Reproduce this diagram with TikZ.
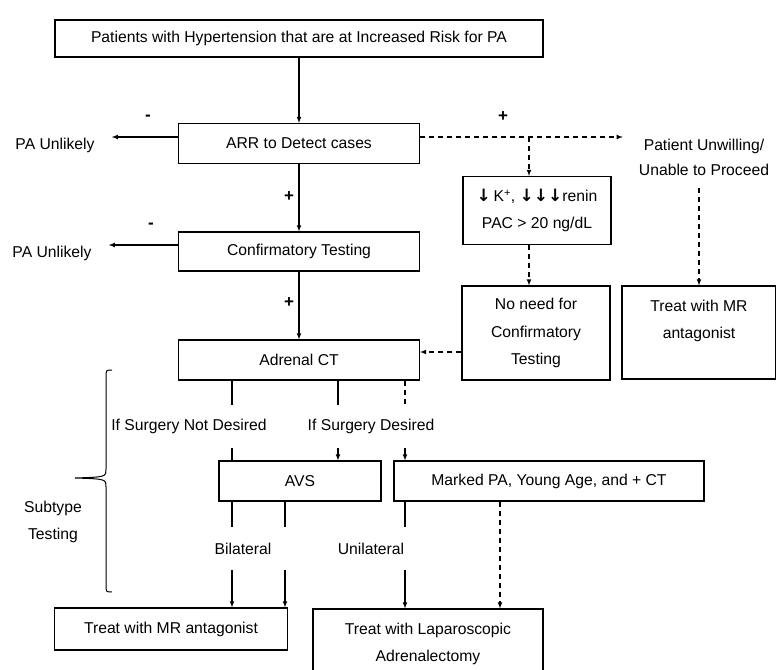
\documentclass[tikz,border=0pt]{standalone}
\usepackage{fontspec}
\setmainfont{Liberation Sans}
\newfontfamily\symfont{DejaVu Sans}
\usepackage{tikz}
\usetikzlibrary{calc,
	positioning,
	shapes,
	arrows}
\tikzstyle{box}=[draw, line width=1.1pt, inner sep=0, align=center]
\tikzstyle{lbl}=[inner sep=0, minimum height=43, align=center]
\tikzstyle{sgn}=[inner sep=0, font={\fontsize{17}{18}\selectfont\bfseries}]
\tikzstyle{ln}=[line width=1.1pt]
\tikzstyle{dsh}=[line width=1.1pt, dash pattern=on 5pt off 4pt]
\newcommand{\dn}{{\symfont\bfseries\fontsize{17}{17}\selectfont ↓}}

\begin{document}
\begin{tikzpicture}[x=1pt, y=-1pt, >=latex,
        every node/.append style={font=\fontsize{15.7}{27.5}\selectfont}]
        \useasboundingbox (0,0) rectangle (776,669);
        \node[box, minimum width=488, minimum height=37] (top) at (299,38.5) {Patients with Hypertension that are at Increased Risk for PA};
        \node[box, minimum width=241, minimum height=40] (arr) at (299,143.5) {ARR to Detect cases};
        \node[box, minimum width=241, minimum height=39] (conf) at (299,251.5) {Confirmatory Testing};
        \node[box, minimum width=241, minimum height=40] (ct) at (299,360) {Adrenal CT};
        \node[box, minimum width=148, minimum height=68] (kbox) at (537,210.5) {\dn\,K\textsuperscript{+}, \dn\dn\dn renin\\PAC {\textgreater} 20 ng/dL};
        \node[box, minimum width=148, minimum height=94] (noneed) at (536,333) {No need for\\Confirmatory\\Testing};
        \node[box, minimum width=154, minimum height=93] (mrr) at (699,332.5) {};
        \node[anchor=north, align=center, inner sep=0] (mrrtxt) at ([yshift=-14pt]mrr.north) {Treat with MR\\antagonist};
        \node[box, minimum width=162, minimum height=40] (avs) at (300,481) {AVS};
        \node[box, minimum width=310, minimum height=40] (marked) at (549,481) {Marked PA, Young Age, and + CT};
        \node[box, minimum width=233, minimum height=42] (mrl) at (171,629) {Treat with MR antagonist};
        \node[box, minimum width=230, minimum height=70] (lap) at (428,644) {Treat with Laparoscopic\\Adrenalectomy};

        \node[inner xsep=17, inner ysep=0] (pa1) at (55,145) {PA Unlikely};
        \node[inner xsep=17, inner ysep=0] (pa2) at (52,253) {PA Unlikely};
        \node[inner xsep=16, inner ysep=12, align=center, font=\fontsize{15.7}{25.5}\selectfont] (pu) at (704,157.5) {Patient Unwilling/\\Unable to Proceed};
        \node[lbl] (nsd) at (189,426.5) {If Surgery Not Desired};
        \node[lbl] (sd) at (371,426.5) {If Surgery Desired};
        \node[lbl] (bil) at (243,548.5) {Bilateral};
        \node[lbl] (uni) at (371,548.5) {Unilateral};
        \node[align=center, inner sep=0] (sub) at (53,522) {Subtype\\Testing};

        \node[sgn] (m1) at (148,118) {-};
        \node[sgn] (m2) at (151,226) {-};
        \node[sgn] (p1) at (503,117) {+};
        \node[sgn] (p2) at (289,197) {+};
        \node[sgn] (p3) at (289,303) {+};

        \draw[ln, ->] (top.south) -- (arr.north);
        \draw[ln, ->] (arr.south) -- (conf.north);
        \draw[ln, ->] (conf.south) -- (ct.north);
        \draw[ln, ->] (arr.west |- 0,137) -- (pa1.east |- 0,137);
        \draw[ln, ->] (conf.west |- 0,245) -- (pa2.east |- 0,245);
        \draw[dsh, ->] (arr.east |- 0,137) -- (pu.west |- 0,137);
        \coordinate (br) at (529,137);
        \draw[dsh, ->] (br) -- (kbox.north -| br);
        \draw[dsh, ->] (kbox.south -| br) -- (noneed.north -| br);
        \draw[dsh, ->] (noneed.west |- 0,352) -- (ct.east |- 0,352);
        \draw[dsh, ->] (pu.south -| mrr) -- (mrr.north);

        \draw[ln] (ct.south -| 232,0) -- (nsd.north -| 232,0);
        \draw[ln] (nsd.south -| 232,0) -- (avs.north -| 232,0);
        \draw[ln] (ct.south -| 338,0) -- (sd.north -| 338,0);
        \draw[ln, ->] (sd.south -| 338,0) -- (avs.north -| 338,0);
        \draw[dsh] (ct.south -| 405,0) -- (sd.north -| 405,0);
        \draw[ln, ->] (sd.south -| 405,0) -- (marked.north -| 405,0);

        \foreach \x in {232,285} {
            \draw[ln] (avs.south -| \x,0) -- (bil.north -| \x,0);
            \draw[ln, ->] (bil.south -| \x,0) -- (mrl.north -| \x,0);
        }
        \draw[ln] (marked.south -| 405,0) -- (uni.north -| 405,0);
        \draw[ln, ->] (uni.south -| 405,0) -- (lap.north -| 405,0);
        \draw[dsh, ->] (marked.south -| 500,0) -- (lap.north -| 500,0);

        \draw[line width=1pt] (112,370) .. controls (106,370) .. (106,377) -- (106,469)
            .. controls (106,477) .. (75,478) .. controls (106,479) .. (106,487)
            -- (106,585) .. controls (106,592) .. (112,592);
    \end{tikzpicture}
\end{document}
